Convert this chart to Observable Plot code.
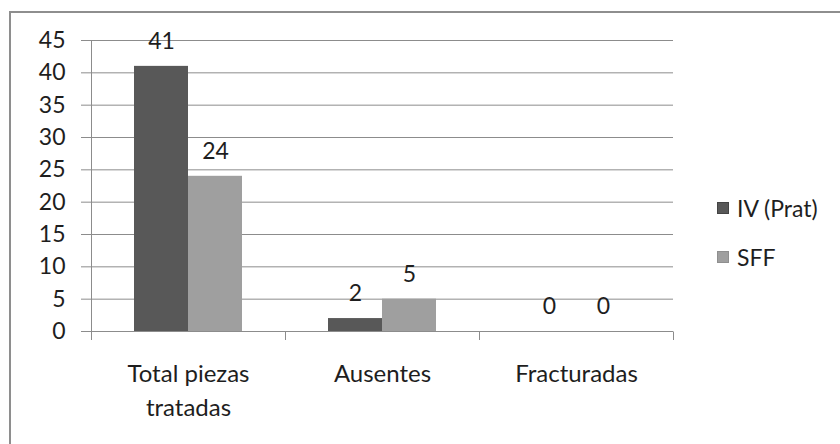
<!DOCTYPE html>
<html>
<head>
<meta charset="utf-8">
<script src="https://cdn.jsdelivr.net/npm/d3@7"></script>
<script src="https://cdn.jsdelivr.net/npm/@observablehq/plot@0.6"></script>
<style>
  body { margin: 0; background: #fff; }
  #wrap { position: relative; width: 840px; height: 444px; overflow: hidden; background: #fff; font-family: Lato, "Open Sans", sans-serif; }
  #border { position: absolute; left: 9px; top: 11px; width: 900px; height: 500px; border-left: 2px solid #8e8e8e; border-top: 2px solid #8e8e8e; box-sizing: border-box; }
  #chart { position: absolute; left: 0; top: 0; }
  #legend { position: absolute; left: 717px; top: 190px; font-size: 23px; color: #1e1e1e; }
  .item { display: flex; align-items: center; height: 36px; margin-bottom: 13px; }
  .sw { width: 12px; height: 12px; margin-right: 8px; box-sizing: border-box; }
</style>
</head>
<body>
<div id="wrap">
  <div id="border"></div>
  <div id="chart"></div>
  <div id="legend"></div>
</div>
<script>
const categories = ["Total piezas tratadas", "Ausentes", "Fracturadas"];
const seriesNames = ["IV (Prat)", "SFF"];
const ivValues = [41, 2, 0];
const sffValues = [24, 5, 0];
const yTicks = [0, 5, 10, 15, 20, 25, 30, 35, 40, 45];
const seriesColors = ["#585858", "#9f9f9f"];

const rows = categories.flatMap((c, i) => [
  { cat: c, series: seriesNames[0], value: ivValues[i] },
  { cat: c, series: seriesNames[1], value: sffValues[i] }
]);

const gridColor = "#8c8c8c";

const plot = Plot.plot({
  width: 700,
  height: 444,
  marginLeft: 91,
  marginRight: 27,
  marginTop: 40,
  marginBottom: 113,
  style: { fontFamily: "Lato, 'Open Sans', sans-serif", fontSize: "23px", color: "#1e1e1e", background: "transparent" },
  fx: { domain: categories, padding: 0, label: null },
  x: { domain: seriesNames, paddingInner: 0, paddingOuter: 0.78, axis: null },
  y: { domain: [0, 45], label: null },
  color: { domain: seriesNames, range: seriesColors },
  marks: [
    Plot.ruleY(yTicks, { stroke: gridColor, strokeWidth: 1 }),
    Plot.axisY({ ticks: yTicks, tickSize: 10, tickPadding: 16, stroke: gridColor, label: null, fill: "#1e1e1e" }),
    Plot.axisFx({ anchor: "bottom", tickSize: 0, tickPadding: 27, lineWidth: 7, lineHeight: 1.4, fontSize: 24, label: null, fill: "#1e1e1e" }),
    Plot.barY(rows, { fx: "cat", x: "series", y: "value", fill: "series" }),
    Plot.text(rows, { fx: "cat", x: "series", y: "value", text: d => String(d.value), dy: -25, fill: "#1e1e1e" })
  ]
});

document.getElementById("chart").appendChild(plot);

// category-boundary tick marks and vertical axis line, placed with the fx scale
const fx = plot.scale("fx");
const yScale = plot.scale("y");
const svg = d3.select(plot);
const bounds = categories.map(c => fx.apply(c)).concat([fx.apply(categories[categories.length - 1]) + fx.bandwidth]);
const y0 = yScale.apply(0);
const yTop = yScale.apply(45);
bounds.forEach((b, i) => {
  svg.append("line")
    .attr("x1", Math.round(b) + 0.5).attr("x2", Math.round(b) + 0.5)
    .attr("y1", i === 0 ? yTop + 0.5 : y0 + 0.5)
    .attr("y2", y0 + 9)
    .attr("stroke", gridColor);
});

const legend = d3.select("#legend");
seriesNames.forEach((s, i) => {
  const it = legend.append("div").attr("class", "item");
  it.append("div").attr("class", "sw").style("background", seriesColors[i]).style("border", "1px solid " + (i === 0 ? "#444" : "#8f8f8f"));
  it.append("span").text(s);
});
</script>
</body>
</html>
